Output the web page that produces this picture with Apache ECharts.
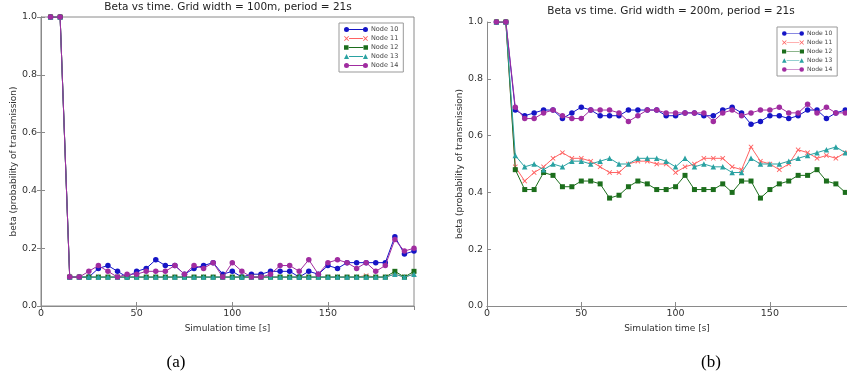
<!DOCTYPE html>
<html><head><meta charset="utf-8">
<script src="https://cdn.jsdelivr.net/npm/echarts@6/dist/echarts.min.js"></script>
<style>html,body{margin:0;padding:0;background:#fff}#c{width:847px;height:380px}</style>
</head><body><div id="c"></div>
<script>
// ---- data ----
const times = [5,10,15,20,25,30,35,40,45,50,55,60,65,70,75,80,85,90,95,100,105,110,115,120,125,130,135,140,145,150,155,160,165,170,175,180,185,190,195];
const nodeNames = ['Node 10','Node 11','Node 12','Node 13','Node 14'];
const xTickLabels = [0,50,100,150];
const yTickLabels = [0.0,0.2,0.4,0.6,0.8,1.0];

// (a) grid width 100m
const a10 = [1,1,0.10,0.10,0.10,0.13,0.14,0.12,0.10,0.12,0.13,0.16,0.14,0.14,0.11,0.13,0.14,0.15,0.11,0.12,0.10,0.11,0.11,0.12,0.12,0.12,0.10,0.12,0.11,0.14,0.13,0.15,0.15,0.15,0.15,0.15,0.24,0.18,0.19];
const a11 = [1,1,0.10,0.10,0.10,0.10,0.10,0.10,0.10,0.10,0.10,0.10,0.10,0.10,0.10,0.10,0.10,0.10,0.10,0.10,0.10,0.10,0.10,0.10,0.10,0.10,0.10,0.10,0.10,0.10,0.10,0.10,0.10,0.105,0.10,0.10,0.11,0.10,0.11];
const a12 = [1,1,0.10,0.10,0.10,0.10,0.10,0.10,0.10,0.10,0.10,0.10,0.10,0.10,0.10,0.10,0.10,0.10,0.10,0.10,0.10,0.10,0.10,0.10,0.10,0.10,0.10,0.10,0.10,0.10,0.10,0.10,0.10,0.10,0.10,0.10,0.12,0.10,0.12];
const a13 = [1,1,0.10,0.10,0.10,0.10,0.10,0.10,0.10,0.10,0.10,0.10,0.10,0.10,0.10,0.10,0.10,0.10,0.10,0.10,0.10,0.10,0.10,0.10,0.10,0.10,0.10,0.10,0.10,0.10,0.10,0.10,0.10,0.10,0.10,0.10,0.11,0.10,0.11];
const a14 = [1,1,0.10,0.10,0.12,0.14,0.12,0.10,0.11,0.11,0.12,0.12,0.12,0.14,0.11,0.14,0.13,0.15,0.10,0.15,0.12,0.10,0.10,0.11,0.14,0.14,0.12,0.16,0.11,0.15,0.16,0.15,0.13,0.15,0.12,0.14,0.23,0.19,0.20];

// (b) grid width 200m
const b10 = [1,1,0.69,0.67,0.68,0.69,0.69,0.66,0.68,0.70,0.69,0.67,0.67,0.67,0.69,0.69,0.69,0.69,0.67,0.67,0.68,0.68,0.67,0.67,0.69,0.70,0.68,0.64,0.65,0.67,0.67,0.66,0.67,0.69,0.69,0.66,0.68,0.69,0.69];
const b11 = [1,1,0.49,0.44,0.47,0.49,0.52,0.54,0.52,0.52,0.51,0.49,0.47,0.47,0.50,0.51,0.51,0.50,0.50,0.47,0.49,0.50,0.52,0.52,0.52,0.49,0.48,0.56,0.51,0.50,0.48,0.50,0.55,0.54,0.52,0.53,0.52,0.54,0.54];
const b12 = [1,1,0.48,0.41,0.41,0.47,0.46,0.42,0.42,0.44,0.44,0.43,0.38,0.39,0.42,0.44,0.43,0.41,0.41,0.42,0.46,0.41,0.41,0.41,0.43,0.40,0.44,0.44,0.38,0.41,0.43,0.44,0.46,0.46,0.48,0.44,0.43,0.40,0.41];
const b13 = [1,1,0.53,0.49,0.50,0.48,0.50,0.49,0.51,0.51,0.50,0.51,0.52,0.50,0.50,0.52,0.52,0.52,0.51,0.49,0.52,0.49,0.50,0.49,0.49,0.47,0.47,0.52,0.50,0.50,0.50,0.51,0.52,0.53,0.54,0.55,0.56,0.54,0.54];
const b14 = [1,1,0.70,0.66,0.66,0.68,0.69,0.67,0.66,0.66,0.69,0.69,0.69,0.68,0.65,0.67,0.69,0.69,0.68,0.68,0.68,0.68,0.68,0.65,0.68,0.69,0.67,0.68,0.69,0.69,0.70,0.68,0.68,0.71,0.68,0.70,0.68,0.68,0.68];

// ---- styling ----
const colors = ['#1515c6','#ff6262','#1c6e1c','#2aa2a2','#a02ca0'];
const XMARK = 'path://M1,2L2,1L5,4L8,1L9,2L6,5L9,8L8,9L5,6L2,9L1,8L4,5Z';
const symbols = ['circle', XMARK, 'rect', 'triangle', 'circle'];
const LINE = 'M9,4.4H31V5.6H9Z';
const icons = [
  'path://M1,5A4,4,0,1,0,9,5A4,4,0,1,0,1,5Z' + LINE + 'M31,5A4,4,0,1,0,39,5A4,4,0,1,0,31,5Z',
  'path://M1,2L2,1L5,4L8,1L9,2L6,5L9,8L8,9L5,6L2,9L1,8L4,5Z' + LINE + 'M31,2L32,1L35,4L38,1L39,2L36,5L39,8L38,9L35,6L32,9L31,8L34,5Z',
  'path://M1.5,1.5H8.5V8.5H1.5Z' + LINE + 'M31.5,1.5H38.5V8.5H31.5Z',
  'path://M5,1L9,9L1,9Z' + LINE + 'M35,1L39,9L31,9Z',
  'path://M1,5A4,4,0,1,0,9,5A4,4,0,1,0,1,5Z' + LINE + 'M31,5A4,4,0,1,0,39,5A4,4,0,1,0,31,5Z'
];
const FONT = 'DejaVu Sans';
const frame = '#8a8a8a';
// visible x-range of each panel (panel (b) is cut off by the picture's right edge)
const xMaxA = 195;
const xMaxB = 190.9;

function bottomX(gi, mx){
  return {type:'value', gridIndex:gi, min:0, max:mx, interval:50,
    axisLine:{show:true, lineStyle:{color:frame,width:1}},
    axisTick:{inside:true, length:4, lineStyle:{color:frame}},
    axisLabel:{color:'#333', fontFamily:FONT, fontSize:9.5, margin:3, showMaxLabel:false,
      formatter:v => xTickLabels.indexOf(v) >= 0 ? String(v) : ''},
    splitLine:{show:false},
    name:'Simulation time [s]', nameLocation:'middle', nameGap:14,
    nameTextStyle:{color:'#333', fontFamily:FONT, fontSize:9}};
}
function topX(gi, mx){
  return {type:'value', gridIndex:gi, position:'top', min:0, max:mx, interval:50,
    axisLine:{show:true, lineStyle:{color:frame,width:1}},
    axisTick:{inside:true, length:4, lineStyle:{color:frame}},
    axisLabel:{show:false}, splitLine:{show:false}};
}
function leftY(gi, gap){
  return {type:'value', gridIndex:gi, min:0, max:1, interval:0.2,
    axisLine:{show:true, lineStyle:{color:frame,width:1}},
    axisTick:{inside:true, length:4, lineStyle:{color:frame}},
    axisLabel:{color:'#333', fontFamily:FONT, fontSize:9.5, margin:4,
      formatter:v => { const k = yTickLabels.find(t => Math.abs(t - v) < 1e-6); return k === undefined ? '' : k.toFixed(1); }},
    splitLine:{show:false},
    name:'beta (probability of transmission)', nameLocation:'middle', nameGap:gap, nameRotate:90,
    nameTextStyle:{color:'#333', fontFamily:FONT, fontSize:9}};
}
function rightY(gi, showLine){
  return {type:'value', gridIndex:gi, position:'right', min:0, max:1, interval:0.2,
    axisLine:{show:showLine, lineStyle:{color:frame,width:1}},
    axisTick:{show:showLine, inside:true, length:4, lineStyle:{color:frame}},
    axisLabel:{show:false}, splitLine:{show:false}};
}

const dataA = [a10,a11,a12,a13,a14];
const dataB = [b10,b11,b12,b13,b14];
const series = [];
[dataA, dataB].forEach((set, gi) => {
  set.forEach((arr, k) => {
    series.push({
      type:'line', name:nodeNames[k], xAxisIndex:gi, yAxisIndex:gi,
      data: times.map((t,i) => [t, arr[i]]),
      symbol: symbols[k], symbolSize: k === 1 ? 5 : (k === 2 ? 5 : 5.5),
      showAllSymbol:true,
      lineStyle:{width:1, color:colors[k]},
      itemStyle:{color:colors[k]},
      emphasis:{disabled:true}, z: 2 + k
    });
  });
});

function legend(left, top, iw, fs){
  return {orient:'vertical', left:left, top:top, align:'left',
    itemWidth:iw, itemHeight:iw/4, itemGap:2,
    backgroundColor:'#fff', borderColor:'#999', borderWidth:1, borderRadius:0,
    padding:[3,5], selectedMode:false,
    textStyle:{color:'#444', fontFamily:FONT, fontSize:fs, lineHeight:7, padding:[0,0,0,-2]},
    data: nodeNames.map((n,k) => ({name:n, icon:icons[k]}))};
}

const chart = echarts.init(document.getElementById('c'), null, {renderer:'canvas'});
chart.setOption({
  animation:false,
  backgroundColor:'#fff',
  grid:[
    {left:41, top:17, width:373, height:289, show:true, borderColor:frame, borderWidth:1, containLabel:false},
    {left:487, top:22, width:360, height:284, show:false, containLabel:false}
  ],
  xAxis:[bottomX(0, xMaxA), bottomX(1, xMaxB), topX(0, xMaxA), topX(1, xMaxB)],
  yAxis:[leftY(0, 22), leftY(1, 20), rightY(0, true), rightY(1, false)],
  legend:[legend(339, 23, 24, 6.5), legend(777, 27, 22, 6)],
  series: series,
  graphic:[
    {type:'text', x:228, y:7, style:{text:'Beta vs time. Grid width = 100m, period = 21s', font:'10.5px "DejaVu Sans"', fill:'#222', align:'center', verticalAlign:'middle', textAlign:'center', textVerticalAlign:'middle'}},
    {type:'text', x:671, y:11, style:{text:'Beta vs time. Grid width = 200m, period = 21s', font:'10.5px "DejaVu Sans"', fill:'#222', align:'center', verticalAlign:'middle', textAlign:'center', textVerticalAlign:'middle'}},
    {type:'text', x:176, y:363, style:{text:'(a)', font:'17px "Liberation Serif"', fill:'#000', align:'center', verticalAlign:'middle', textAlign:'center', textVerticalAlign:'middle'}},
    {type:'text', x:711, y:363, style:{text:'(b)', font:'17px "Liberation Serif"', fill:'#000', align:'center', verticalAlign:'middle', textAlign:'center', textVerticalAlign:'middle'}}
  ]
});
</script>
</body></html>
